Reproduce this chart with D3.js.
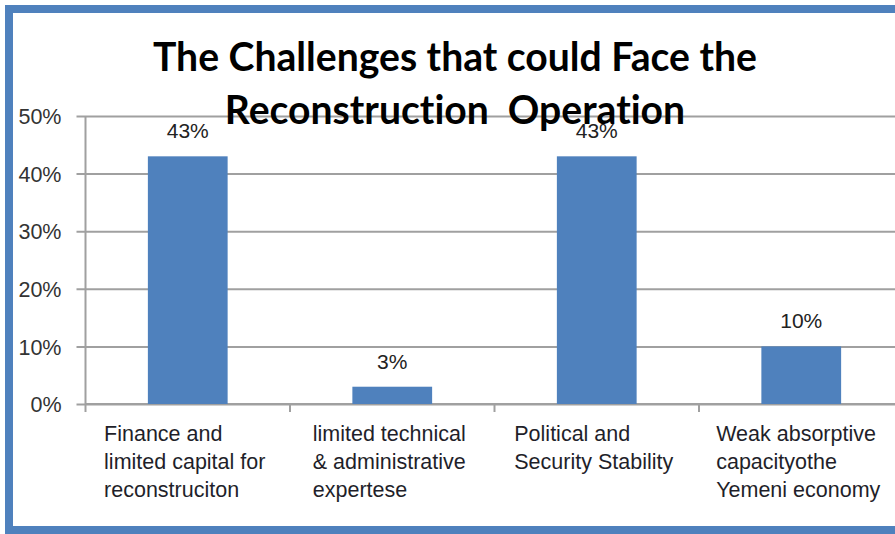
<!DOCTYPE html>
<html>
<head>
<meta charset="utf-8">
<script src="https://cdn.jsdelivr.net/npm/d3@7"></script>
<style>
  html, body { margin: 0; padding: 0; background: #ffffff; }
  svg { display: block; }
</style>
</head>
<body>
<svg id="chart" width="895" height="534"></svg>
<script>
// Chart data
const categories = [
  ["Finance and", "limited capital for", "reconstruciton"],
  ["limited technical", "& administrative", "expertese"],
  ["Political and", "Security Stability"],
  ["Weak absorptive", "capacityothe", "Yemeni economy"]
];
const values = [0.43, 0.03, 0.43, 0.10];
const valueLabels = ["43%", "3%", "43%", "10%"];
const yTicks = [0, 0.1, 0.2, 0.3, 0.4, 0.5];
const titleLines = ["The Challenges that could Face the", "Reconstruction  Operation"];

const svg = d3.select("#chart");
const W = 895, H = 534;
const blue = "#4f81bd";
const gridColor = "#a0a0a0";
const labelFont = "'Liberation Sans', Arial, sans-serif";

// frame background and border
svg.append("rect").attr("x", 0).attr("y", 0).attr("width", W).attr("height", H).attr("fill", "#fff");
svg.append("rect")
  .attr("x", 9).attr("y", 9).attr("width", W + 20).attr("height", 521)
  .attr("fill", "#fff").attr("stroke", blue).attr("stroke-width", 8);

// scales
const plotLeft = 85.5, plotTop = 116, plotBottom = 404, step = 204.5;
const x = d3.scaleBand()
  .domain(d3.range(categories.length))
  .range([plotLeft, plotLeft + step * categories.length])
  .padding(0);
const y = d3.scaleLinear().domain([0, 0.5]).range([plotBottom, plotTop]);
const barW = x.bandwidth() * 0.39;

// gridlines + y ticks
const yAxis = d3.axisLeft(y)
  .tickValues(yTicks)
  .tickFormat(d3.format(".0%"))
  .tickSize(-(W - plotLeft + 10))
  .tickPadding(0);
const gy = svg.append("g").attr("transform", `translate(${plotLeft},0)`).call(yAxis);
gy.select(".domain").remove();
gy.selectAll(".tick line")
  .attr("x1", -9)
  .attr("stroke", gridColor).attr("stroke-width", 2);
gy.selectAll(".tick text")
  .attr("x", -24).attr("dy", "0.36em")
  .attr("fill", "#333")
  .style("font-family", labelFont).style("font-size", "21.5px");

// y axis line
svg.append("line")
  .attr("x1", plotLeft).attr("x2", plotLeft)
  .attr("y1", plotTop).attr("y2", plotBottom)
  .attr("stroke", gridColor).attr("stroke-width", 2);

// x axis with ticks at category boundaries
const xAxisG = svg.append("g");
xAxisG.append("line")
  .attr("x1", plotLeft).attr("x2", W)
  .attr("y1", plotBottom).attr("y2", plotBottom)
  .attr("stroke", gridColor).attr("stroke-width", 2);
xAxisG.selectAll("line.tk")
  .data(d3.range(categories.length))
  .join("line").attr("class", "tk")
  .attr("x1", d => x(d)).attr("x2", d => x(d))
  .attr("y1", plotBottom).attr("y2", plotBottom + 8)
  .attr("stroke", gridColor).attr("stroke-width", 2);

// bars
svg.append("g").selectAll("rect")
  .data(values)
  .join("rect")
  .attr("x", (d, i) => x(i) + (x.bandwidth() - barW) / 2)
  .attr("y", d => y(d))
  .attr("width", barW)
  .attr("height", d => y(0) - y(d))
  .attr("fill", blue);

// value labels
svg.append("g").selectAll("text")
  .data(values)
  .join("text")
  .attr("x", (d, i) => x(i) + x.bandwidth() / 2)
  .attr("y", d => y(d) - 18)
  .attr("text-anchor", "middle")
  .attr("fill", "#222")
  .style("font-family", labelFont).style("font-size", "21px")
  .text((d, i) => valueLabels[i]);

// category labels: lines left-aligned, block centred in its band
const catG = svg.append("g");
categories.forEach((lines, i) => {
  const t = catG.append("text")
    .attr("fill", "#1f1f2a")
    .style("font-family", labelFont).style("font-size", "21.5px");
  lines.forEach((ln, j) => {
    t.append("tspan").attr("y", 441 + j * 28).text(ln);
  });
  const widths = [];
  t.selectAll("tspan").each(function () { widths.push(this.getComputedTextLength()); });
  const blockW = d3.max(widths);
  const left = x(i) + x.bandwidth() / 2 - blockW / 2 - 3;
  t.selectAll("tspan").attr("x", left);
});

// title, sized so the first line spans its target width
const titleG = svg.append("g");
const titleFont = "Lato, 'Noto Sans', sans-serif";
const probe = titleG.append("text")
  .style("font-family", titleFont).style("font-weight", "bold").style("font-size", "100px")
  .style("font-variant-ligatures", "none")
  .text(titleLines[0]);
const fitSize = 100 * 604 / probe.node().getComputedTextLength();
probe.remove();
titleG.selectAll("text")
  .data(titleLines)
  .join("text")
  .attr("x", 455)
  .attr("y", (d, i) => 71 + i * 53)
  .attr("text-anchor", "middle")
  .attr("fill", "#000")
  .style("font-family", titleFont).style("font-weight", "bold")
  .style("font-size", fitSize + "px")
  .style("font-variant-ligatures", "none")
  .style("white-space", "pre")
  .text(d => d);
</script>
</body>
</html>
